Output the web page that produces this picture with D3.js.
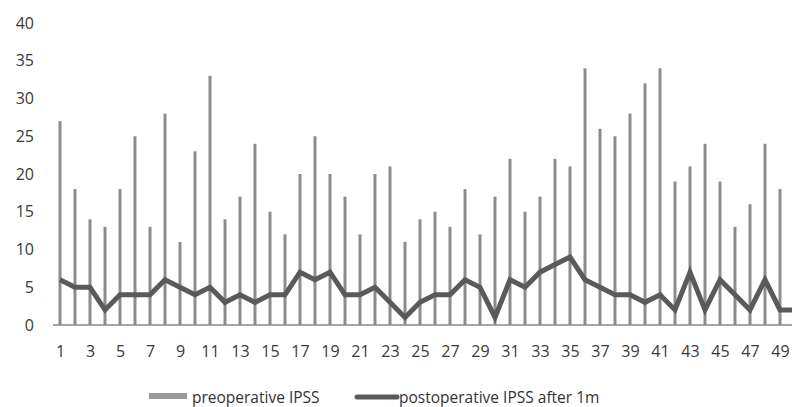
<!DOCTYPE html>
<html>
<head>
<meta charset="utf-8">
<script src="https://cdn.jsdelivr.net/npm/d3@7"></script>
<style>
  body { margin: 0; background: #fff; }
  svg { display: block; overflow: hidden; }
  .axis text { font-family: "Open Sans", sans-serif; font-size: 16px; fill: #3a3a3a; }
  .legend text { font-family: "Open Sans", sans-serif; font-size: 15.5px; fill: #333; }
</style>
</head>
<body>
<div class="chart"></div>
<script>
var patients = d3.range(1, 51);
var preIPSS = [27, 18, 14, 13, 18, 25, 13, 28, 11, 23, 33, 14, 17, 24, 15, 12, 20, 25, 20, 17,
               12, 20, 21, 11, 14, 15, 13, 18, 12, 17, 22, 15, 17, 22, 21, 34, 26, 25, 28, 32,
               34, 19, 21, 24, 19, 13, 16, 24, 18, 22];
var postIPSS = [6, 5, 5, 2, 4, 4, 4, 6, 5, 4, 5, 3, 4, 3, 4, 4, 7, 6, 7, 4,
                4, 5, 3, 1, 3, 4, 4, 6, 5, 1, 6, 5, 7, 8, 9, 6, 5, 4, 4, 3,
                4, 2, 7, 2, 6, 4, 2, 6, 2, 2];
var yTicks = [0, 5, 10, 15, 20, 25, 30, 35, 40];
var seriesNames = ["preoperative IPSS", "postoperative IPSS after 1m"];

var W = 792, H = 407;
var svg = d3.select(".chart").append("svg").attr("width", W).attr("height", H);

var x = d3.scaleLinear().domain([1, 50]).range([60, 795]);
var y = d3.scaleLinear().domain([0, 40]).range([325, 23]);

// y axis labels only
var gy = svg.append("g").attr("class", "axis")
    .attr("transform", "translate(34,0)")
    .call(d3.axisLeft(y).tickValues(yTicks).tickSize(0).tickPadding(0));
gy.select(".domain").remove();

// bars
svg.append("g").selectAll("rect")
    .data(patients)
    .enter().append("rect")
      .attr("x", function(d) { return x(d) - 1.5; })
      .attr("y", function(d, i) { return y(preIPSS[i]); })
      .attr("width", 3)
      .attr("height", function(d, i) { return y(0) - y(preIPSS[i]); })
      .attr("fill", "#8c8c8c");

// baseline
svg.append("line")
    .attr("x1", 53).attr("x2", W)
    .attr("y1", y(0)).attr("y2", y(0))
    .attr("stroke", "#888").attr("stroke-width", 1.5);

// x axis labels
var gx = svg.append("g").attr("class", "axis")
    .attr("transform", "translate(0," + y(0) + ")")
    .call(d3.axisBottom(x).tickValues(patients.filter(function(d) { return d % 2 == 1; }))
      .tickFormat(d3.format("d")).tickSize(0).tickPadding(21));
gx.select(".domain").remove();

// post line
var line = d3.line()
    .x(function(d) { return x(d); })
    .y(function(d, i) { return y(postIPSS[i]); });

svg.append("path")
    .datum(patients)
    .attr("d", line)
    .attr("fill", "none")
    .attr("stroke", "#5a5a5a")
    .attr("stroke-width", 5)
    .attr("stroke-linejoin", "miter");

// legend
var lg = svg.append("g").attr("class", "legend");
lg.append("rect").attr("x", 149).attr("y", 393).attr("width", 38).attr("height", 6).attr("fill", "#999");
lg.append("text").attr("x", 192).attr("y", 403).text(seriesNames[0]);
lg.append("line").attr("x1", 357).attr("x2", 397).attr("y1", 397).attr("y2", 397)
    .attr("stroke", "#5a5a5a").attr("stroke-width", 5).attr("stroke-linecap", "round");
lg.append("text").attr("x", 399).attr("y", 403).text(seriesNames[1]);
</script>
</body>
</html>
